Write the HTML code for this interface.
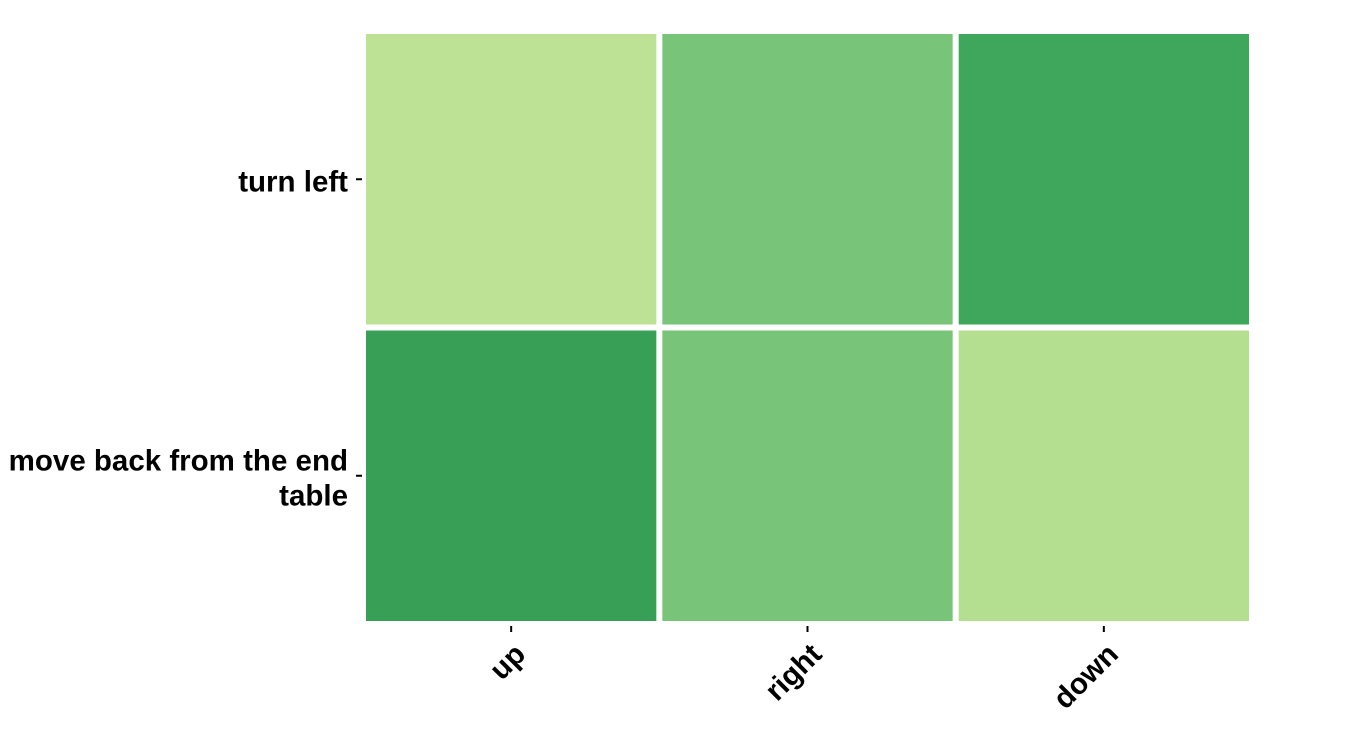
<!DOCTYPE html>
<html><head><meta charset="utf-8"><style>
html,body{margin:0;padding:0;background:#fff;}
svg{display:block;font-family:"Liberation Sans",sans-serif;font-weight:bold;}
</style></head><body>
<svg id="chart" width="1350" height="750"></svg>
<script>
const xCategories = ["up", "right", "down"];
const yCategories = [["turn left"], ["move back from the end", "table"]];
const rowTurnLeft = [0.0, 0.5, 0.9];
const rowMoveBack = [1.0, 0.5, 0.05];
const values = [rowTurnLeft, rowMoveBack];

const NS = "http://www.w3.org/2000/svg";
const svg = document.getElementById("chart");
const plot = {x0: 363, x1: 1252, y0: 31, y1: 624};
const cw = (plot.x1 - plot.x0) / xCategories.length;
const ch = (plot.y1 - plot.y0) / yCategories.length;
function xScale(i){ return plot.x0 + i * cw; }
function yScale(j){ return plot.y0 + j * ch; }
const stops = [[0,[189,226,150]],[0.05,[180,223,145]],[0.5,[120,197,122]],[0.9,[63,167,92]],[1,[56,159,86]]];
function color(v){
  for(let k=0;k<stops.length-1;k++){
    const a=stops[k], b=stops[k+1];
    if(v<=b[0]){
      const t=(v-a[0])/(b[0]-a[0]||1);
      const c=a[1].map((ci,n)=>Math.round(ci+(b[1][n]-ci)*t));
      return `rgb(${c[0]},${c[1]},${c[2]})`;
    }
  }
  const c=stops[stops.length-1][1]; return `rgb(${c[0]},${c[1]},${c[2]})`;
}
function el(tag, attrs){ const e=document.createElementNS(NS,tag); for(const k in attrs) e.setAttribute(k,attrs[k]); svg.appendChild(e); return e; }

values.forEach((row,j)=>row.forEach((v,i)=>{
  const r = el("rect",{x:xScale(i)+1.5,y:yScale(j)+1.5,width:cw-3,height:ch-3,fill:color(v),stroke:"#fff","stroke-width":3});
  
  
}));

xCategories.forEach((c,i)=>{
  const cx = xScale(i)+cw/2;
  const t = el("line",{x1:cx,x2:cx,y1:626,y2:632,stroke:"#000","stroke-width":2});
  
  
  const tx = el("text",{x:cx+16,y:656,"text-anchor":"end","font-size":29.5,transform:`rotate(-45 ${cx+16} 656)`});
  tx.textContent = c;
  
  
});

yCategories.forEach((lines,j)=>{
  const cy = yScale(j)+ch/2;
  const t = el("line",{x1:356,x2:362,y1:cy,y2:cy,stroke:"#000","stroke-width":2});
  
  
  const lh = 35;
  const startY = cy + 12 - (lines.length-1)*lh/2;
  lines.forEach((ln,k)=>{
    const tx = el("text",{x:348,y:startY+k*lh,"text-anchor":"end","font-size":29.5});
    tx.textContent = ln;
    
    
  });
});
</script>
</body></html>
